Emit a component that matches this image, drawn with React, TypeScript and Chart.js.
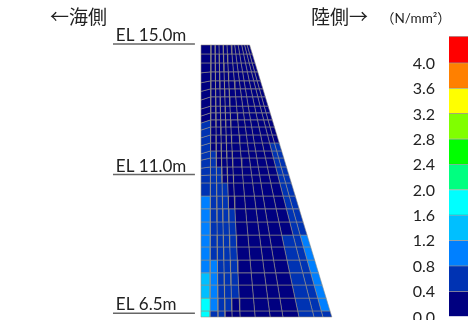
import React, { useEffect, useRef } from "react";
import { Chart, registerables } from "chart.js";

Chart.register(...registerables);

// Section elevations (m) of the mesh rows, top to bottom
const rowElevations = [15, 14.72, 14.44, 14.16, 13.88, 13.63, 13.38, 13.09, 12.88, 12.66, 12.44, 12.19, 11.94, 11.69, 11.47, 11.19, 10.94, 10.69, 10.28, 9.88, 9.47, 9.06, 8.69, 8.28, 7.88, 7.5, 7.09, 6.69, 6.5];
const seaFaceElevations = [15, 14.72, 14.44, 14.13, 13.82, 13.55, 13.28, 13.0, 12.78, 12.56, 12.34, 12.1, 11.85, 11.6, 11.4, 11.15, 10.92, 10.69, 10.28, 9.88, 9.47, 9.06, 8.69, 8.28, 7.88, 7.5, 7.09, 6.69, 6.5];
// Distance (m) from the sea face of each mesh column line at crest and base
const columnsAtCrest = [0, 0.31, 0.44, 0.56, 0.69, 0.81, 0.94, 1.05, 1.16, 1.27, 1.36, 1.44, 1.52];
const columnsAtBase = [0, 0.28, 0.53, 0.75, 0.97, 1.22, 1.69, 2.16, 2.56, 3.06, 3.53, 3.81, 4.09];

const N = 0.2, B = 0.6, C = 1.0, D = 1.4, E = 1.8;
// Stress (N/mm2) per mesh cell
const stress = [
  [N, N, N, N, N, N, N, N, N, N, N, N],
  [N, N, N, N, N, N, N, N, N, N, N, N],
  [N, N, N, N, N, N, N, N, N, N, N, N],
  [N, N, N, N, N, N, N, N, N, N, N, N],
  [N, N, N, N, N, N, N, N, N, N, N, N],
  [N, N, N, N, N, N, N, N, N, N, N, N],
  [N, N, N, N, N, N, N, N, N, N, N, N],
  [N, N, N, N, N, N, N, N, N, N, N, N],
  [N, N, N, N, N, N, N, N, N, N, N, N],
  [B, N, N, N, N, N, N, N, N, N, N, N],
  [B, N, N, N, N, N, N, N, N, N, N, N],
  [B, N, N, N, N, N, N, N, N, N, N, N],
  [B, N, N, N, N, N, N, N, N, N, B, B],
  [B, B, N, N, N, N, N, N, N, N, B, B],
  [B, B, N, N, N, N, N, N, N, N, B, B],
  [B, B, B, N, N, N, N, N, N, N, B, B],
  [B, B, B, N, N, N, N, N, N, N, B, B],
  [B, B, B, B, N, N, N, N, N, N, B, B],
  [C, B, B, B, N, N, N, N, N, N, B, B],
  [C, B, B, B, B, N, N, N, N, N, B, B],
  [C, B, B, B, B, N, N, N, N, N, B, B],
  [C, B, B, B, B, N, N, N, N, B, B, C],
  [C, B, B, B, B, N, N, N, N, B, B, C],
  [C, C, B, B, B, N, N, N, N, B, B, C],
  [D, C, B, B, B, N, N, N, N, B, B, C],
  [D, C, B, B, B, N, N, N, N, B, B, C],
  [E, C, B, B, N, N, N, N, N, B, B, C],
  [E, B, B, N, N, N, N, N, N, B, B, B],
];

const bandColors = ["#000080", "#0033B3", "#0080FF", "#00BFFF", "#00FFFF", "#00FF80", "#00FF00", "#80FF00", "#FFFF00", "#FF8000", "#FF0000"];
const bandValues = [0.4, 0.4, 0.4, 0.4, 0.4, 0.4, 0.4, 0.4, 0.4, 0.4, 0.42];
const colorTicks = [0, 0.4, 0.8, 1.2, 1.6, 2.0, 2.4, 2.8, 3.2, 3.6, 4.0];
const elevationMarks = [
  { el: 15.03, label: "EL 15.0m" },
  { el: 10.95, label: "EL 11.0m" },
  { el: 6.62, label: "EL 6.5m" },
];
const leaderFrom = -2.75;
const leaderTo = -0.19;

const TEXT_FONT = "Lato, 'Noto Sans CJK JP', sans-serif";

function bandColor(v: number) {
  return bandColors[Math.min(Math.floor(v / 0.4), bandColors.length - 1)];
}

function nodeX(col: number, el: number) {
  const t = (15 - el) / (15 - 6.5);
  return columnsAtCrest[col] + (columnsAtBase[col] - columnsAtCrest[col]) * t;
}

function nodeEl(col: number, row: number) {
  return col === 0 ? seaFaceElevations[row] : rowElevations[row];
}

function buildCells() {
  const sets: any[] = [];
  stress.forEach((cols, r) => {
    cols.forEach((v, c) => {
      const corners = [
        [c, r],
        [c + 1, r],
        [c + 1, r + 1],
        [c, r + 1],
        [c, r],
      ].map(([cc, rr]) => {
        const el = nodeEl(cc, rr);
        return { x: nodeX(cc, el), y: el };
      });
      const color = bandColor(v);
      sets.push({
        data: corners,
        showLine: true,
        fill: "shape",
        backgroundColor: color,
        borderColor: "rgba(150,145,130,0.75)",
        borderWidth: 0.75,
        pointRadius: 0,
        tension: 0,
      });
    });
  });
  return sets;
}

const annotationPlugin = {
  id: "sectionText",
  afterDatasetsDraw(chart: any) {
    const { ctx, scales } = chart;
    ctx.save();
    ctx.fillStyle = "#222222";
    ctx.textBaseline = "alphabetic";
    ctx.textAlign = "left";
    ctx.font = `17px ${TEXT_FONT}`;
    elevationMarks.forEach((m) => {
      ctx.fillText(m.label, scales.x.getPixelForValue(-2.66), scales.y.getPixelForValue(m.el) - 3);
    });
    ctx.font = `19px 'Noto Sans CJK JP', sans-serif`;
    ctx.fillText("←海側", 50, 24);
    ctx.fillText("陸側→", 311, 24);
    ctx.font = `13.5px ${TEXT_FONT}`;
    ctx.fillText("（N/mm²）", 381, 23);
    ctx.restore();
  },
};

export default function App() {
  const mainRef = useRef<HTMLCanvasElement>(null);
  const barRef = useRef<HTMLCanvasElement>(null);

  useEffect(() => {
    const leaders = elevationMarks.map((m) => ({
      data: [
        { x: leaderFrom, y: m.el },
        { x: leaderTo, y: m.el },
      ],
      showLine: true,
      fill: false,
      borderColor: "#666666",
      borderWidth: 1.5,
      pointRadius: 0,
    }));
    const main = new Chart(mainRef.current!, {
      type: "scatter",
      data: { datasets: [...buildCells(), ...leaders] },
      options: {
        animation: false,
        responsive: false,
        layout: { padding: 0 },
        plugins: { legend: { display: false }, tooltip: { enabled: false } },
        scales: {
          x: { type: "linear", display: false, min: -6.281, max: 8.344 },
          y: { type: "linear", display: false, min: 6.406, max: 16.406 },
        },
      },
      plugins: [annotationPlugin],
    } as any);

    const bar = new Chart(barRef.current!, {
      type: "bar",
      data: {
        labels: ["stress"],
        datasets: bandValues.map((v, i) => ({
          data: [v],
          backgroundColor: bandColors[i],
          borderColor: "rgba(60,60,60,0.45)",
          borderWidth: { top: 1, bottom: 0, left: 0, right: 0 },
          barPercentage: 1,
          categoryPercentage: 1,
          stack: "s",
        })),
      },
      options: {
        animation: false,
        responsive: false,
        layout: { padding: { top: 36, bottom: 22, left: 0, right: 0 } },
        plugins: { legend: { display: false }, tooltip: { enabled: false } },
        scales: {
          x: { display: false, stacked: true },
          y: {
            stacked: true,
            min: 0,
            max: 4.42,
            border: { display: false },
            grid: { display: false, drawTicks: false },
            afterBuildTicks: (axis: any) => {
              axis.ticks = colorTicks.map((value) => ({ value }));
            },
            afterFit: (axis: any) => {
              axis.width = 49;
            },
            ticks: {
              autoSkip: false,
              padding: 14,
              labelOffset: 1,
              color: "#222222",
              font: { family: "Lato, sans-serif", size: 16 },
              callback: (v: any) => Number(v).toFixed(1),
            },
          },
        },
      },
    } as any);

    return () => {
      main.destroy();
      bar.destroy();
    };
  }, []);

  return (
    <div style={{ position: "fixed", left: 0, top: 0, width: 468, height: 320, overflow: "hidden", background: "#fff" }}>
      <canvas ref={mainRef} width={468} height={320} style={{ position: "absolute", left: 0, top: 0, width: 468, height: 320 }} />
      <canvas ref={barRef} width={68} height={340} style={{ position: "absolute", left: 400, top: 0, width: 68, height: 340 }} />
    </div>
  );
}
